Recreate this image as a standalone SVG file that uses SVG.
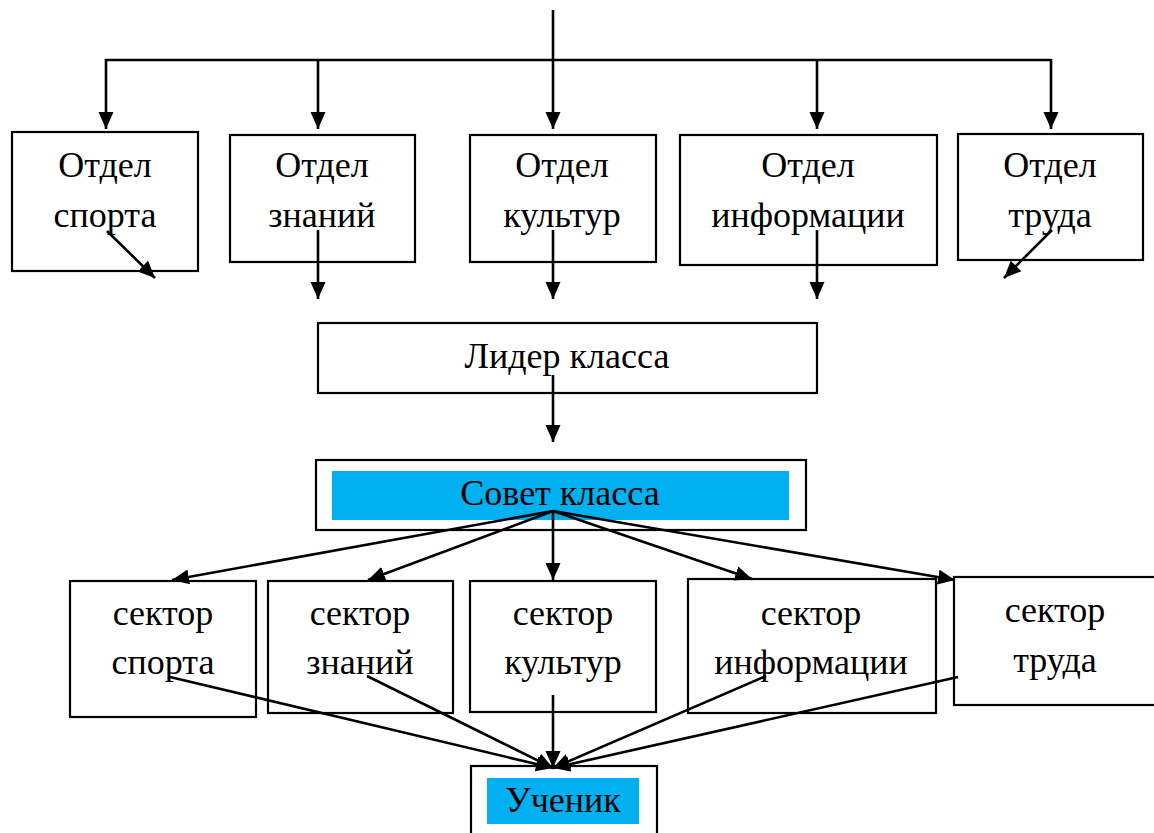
<svg xmlns="http://www.w3.org/2000/svg" width="1154" height="833" viewBox="0 0 1154 833">
<style>
.box{fill:#fff;stroke:#000;stroke-width:2.2}
.hl{fill:#00B0F0;stroke:none}
.t{font-family:"Liberation Serif","Times New Roman",serif;font-size:36px;fill:#000;text-anchor:middle}
.c{fill:none;stroke:#000;stroke-width:2.6}
.a{marker-end:url(#ah)}
</style>
<defs>
<marker id="ah" markerWidth="18" markerHeight="16" refX="17" refY="7.5" orient="auto" markerUnits="userSpaceOnUse">
<path d="M0,0 L17,7.5 L0,15 z" fill="#000"/>
</marker>
</defs>
<rect width="1154" height="833" fill="#fff"/>
<g id="otdel-sport"><rect class="box" x="12" y="132" width="186" height="139"/><text class="t" x="105" y="177">Отдел</text><text class="t" x="105" y="227">спорта</text></g>
<g id="otdel-znaniy"><rect class="box" x="230" y="135" width="185" height="127"/><text class="t" x="322" y="177">Отдел</text><text class="t" x="322" y="227">знаний</text></g>
<g id="otdel-kultur"><rect class="box" x="470" y="135" width="186" height="127"/><text class="t" x="562" y="177">Отдел</text><text class="t" x="562" y="227">культур</text></g>
<g id="otdel-info"><rect class="box" x="680" y="135" width="257" height="130"/><text class="t" x="808" y="177">Отдел</text><text class="t" x="808" y="227">информации</text></g>
<g id="otdel-truda"><rect class="box" x="958" y="134" width="185" height="126"/><text class="t" x="1050" y="177">Отдел</text><text class="t" x="1050" y="227">труда</text></g>
<g id="lider"><rect class="box" x="318" y="323" width="499" height="70"/><text class="t" x="567" y="368">Лидер класса</text></g>
<g id="sovet"><rect class="box" x="316" y="460" width="490" height="70"/><rect class="hl" x="332" y="471" width="457" height="49"/><text class="t" x="560" y="505">Совет класса</text></g>
<g id="sektor-sport"><rect class="box" x="70" y="581" width="186" height="136"/><text class="t" x="163" y="625">сектор</text><text class="t" x="163" y="674">спорта</text></g>
<g id="sektor-znaniy"><rect class="box" x="268" y="581" width="185" height="132"/><text class="t" x="360" y="625">сектор</text><text class="t" x="360" y="674">знаний</text></g>
<g id="sektor-kultur"><rect class="box" x="470" y="581" width="186" height="131"/><text class="t" x="563" y="625">сектор</text><text class="t" x="563" y="674">культур</text></g>
<g id="sektor-info"><rect class="box" x="688" y="579" width="248" height="134"/><text class="t" x="811" y="625">сектор</text><text class="t" x="811" y="674">информации</text></g>
<g id="sektor-truda"><rect class="box" x="954" y="577" width="210" height="128"/><text class="t" x="1055" y="622">сектор</text><text class="t" x="1055" y="672">труда</text></g>
<g id="uchenik"><rect class="box" x="471" y="766" width="186" height="80"/><rect class="hl" x="487" y="778" width="152" height="46"/><text class="t" x="563" y="812">Ученик</text></g>
<g id="connectors">
<line class="c" x1="553" y1="10" x2="553" y2="60"/>
<line class="c" x1="106" y1="60" x2="1051" y2="60"/>
<line class="c a" x1="106" y1="59" x2="106" y2="129"/>
<line class="c a" x1="318" y1="59" x2="318" y2="129"/>
<line class="c a" x1="553" y1="59" x2="553" y2="129"/>
<line class="c a" x1="817" y1="59" x2="817" y2="129"/>
<line class="c a" x1="1051" y1="59" x2="1051" y2="129"/>
<line class="c a" x1="107" y1="231" x2="155" y2="278"/>
<line class="c a" x1="318" y1="230" x2="318" y2="299"/>
<line class="c a" x1="553" y1="230" x2="553" y2="299"/>
<line class="c a" x1="817" y1="230" x2="817" y2="299"/>
<line class="c a" x1="1052" y1="230" x2="1004" y2="278"/>
<line class="c a" x1="553" y1="375" x2="553" y2="442"/>
<line class="c a" x1="553" y1="511" x2="172" y2="580"/>
<line class="c a" x1="553" y1="511" x2="368" y2="580"/>
<line class="c a" x1="553" y1="511" x2="553" y2="580"/>
<line class="c a" x1="553" y1="511" x2="752" y2="579"/>
<line class="c a" x1="553" y1="511" x2="955" y2="580"/>
<line class="c a" x1="170" y1="677" x2="553" y2="768"/>
<line class="c a" x1="367" y1="676" x2="553" y2="768"/>
<line class="c a" x1="553" y1="695" x2="553" y2="768"/>
<line class="c a" x1="766" y1="676" x2="553" y2="768"/>
<line class="c a" x1="958" y1="677" x2="553" y2="768"/>
</g>
</svg>
